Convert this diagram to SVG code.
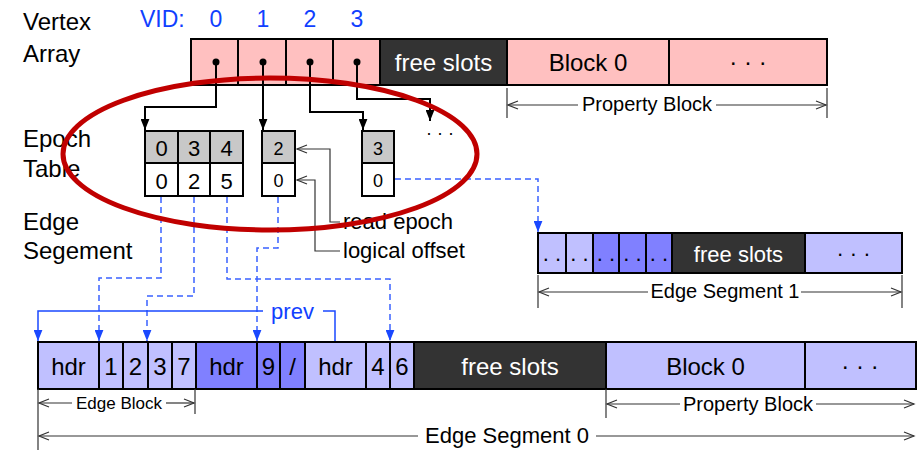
<svg xmlns="http://www.w3.org/2000/svg" width="917" height="451" viewBox="0 0 917 451">
<style>
text { font-family: "Liberation Sans", Arial, Helvetica, sans-serif; }
.lbl { font-size: 24px; fill: #000; }
.c { text-anchor: middle; }
.s24 { font-size: 24px; }
.s22 { font-size: 22px; }
.s20 { font-size: 20px; }
.s18 { font-size: 18px; }
.s17 { font-size: 17px; }
.wt { fill: #fff; }
.bt { fill: #1040ff; }
.cell { stroke: #000; stroke-width: 2; }
.pink { fill: #ffc0c0; }
.dark { fill: #333333; }
.lt { fill: #c0c0ff; }
.md { fill: #8080ff; }
.gray { fill: #c8c8c8; }
.white { fill: #ffffff; }
.bk { stroke: #000; stroke-width: 2; fill: none; }
.dim { stroke: #333; stroke-width: 1.2; fill: none; }
.bd { stroke: #3a62ff; stroke-width: 1.5; stroke-dasharray: 6 4; fill: none; }
.bs { stroke: #1a48ff; stroke-width: 1.5; fill: none; }
</style>
<defs>
<marker id="ab" viewBox="0 0 10 8" refX="10" refY="4" markerWidth="11" markerHeight="9" markerUnits="userSpaceOnUse" orient="auto">
<path d="M0,0 L10,4 L0,8 z" fill="#000"/>
</marker>
<marker id="au" viewBox="0 0 10 8" refX="10" refY="4" markerWidth="11" markerHeight="9" markerUnits="userSpaceOnUse" orient="auto">
<path d="M0,0 L10,4 L0,8 z" fill="#1a48ff"/>
</marker>
<marker id="ch" viewBox="0 0 10 8" refX="10" refY="4" markerWidth="10" markerHeight="8" markerUnits="userSpaceOnUse" orient="auto" overflow="visible">
<path d="M0,0 L10,4 L0,8" fill="none" stroke="#333" stroke-width="1.2"/>
</marker>
</defs>
<rect width="917" height="451" fill="#fff"/>

<!-- left labels -->
<g id="labels">
<text class="lbl" x="23" y="30">Vertex</text>
<text class="lbl" x="23" y="62">Array</text>
<text class="lbl" x="23" y="147">Epoch</text>
<text class="lbl" x="23" y="177">Table</text>
<text class="lbl" x="23" y="230">Edge</text>
<text class="lbl" x="23" y="259">Segement</text>
<text class="bt" x="140" y="27" style="font-size:23px">VID:</text>
<text class="bt c" x="216" y="27" style="font-size:23px">0</text>
<text class="bt c" x="263" y="27" style="font-size:23px">1</text>
<text class="bt c" x="310" y="27" style="font-size:23px">2</text>
<text class="bt c" x="357" y="27" style="font-size:23px">3</text>
</g>

<!-- vertex array -->
<g id="vertex-array">
<rect class="cell pink" x="191" y="39" width="47" height="46"/>
<rect class="cell pink" x="238" y="39" width="48" height="46"/>
<rect class="cell pink" x="286" y="39" width="47" height="46"/>
<rect class="cell pink" x="333" y="39" width="47" height="46"/>
<rect class="cell dark" x="380" y="39" width="127" height="46"/>
<rect class="cell pink" x="507" y="39" width="162" height="46"/>
<rect class="cell pink" x="669" y="39" width="158" height="46"/>
<circle cx="216" cy="62" r="3.5" fill="#000"/>
<circle cx="263" cy="62" r="3.5" fill="#000"/>
<circle cx="310" cy="62" r="3.5" fill="#000"/>
<circle cx="357" cy="62" r="3.5" fill="#000"/>
<text class="s24 c wt" x="443.5" y="71">free slots</text>
<text class="s24 c" x="588" y="71">Block 0</text>
<text class="s24 c" x="748" y="70">· · ·</text>
</g>

<!-- epoch tables -->
<g id="epoch-0">
<rect class="cell gray" x="145" y="131" width="33" height="32"/>
<rect class="cell gray" x="178" y="131" width="32" height="32"/>
<rect class="cell gray" x="210" y="131" width="33" height="32"/>
<rect class="cell white" x="145" y="163" width="33" height="33"/>
<rect class="cell white" x="178" y="163" width="32" height="33"/>
<rect class="cell white" x="210" y="163" width="33" height="33"/>
<text class="s22 c" x="161.5" y="156">0</text>
<text class="s22 c" x="194" y="156">3</text>
<text class="s22 c" x="226.5" y="156">4</text>
<text class="s22 c" x="161.5" y="189">0</text>
<text class="s22 c" x="194" y="189">2</text>
<text class="s22 c" x="226.5" y="189">5</text>
</g>
<g id="epoch-1">
<rect class="cell gray" x="262" y="131" width="33" height="32"/>
<rect class="cell white" x="262" y="163" width="33" height="33"/>
<text class="s18 c" x="278.5" y="155">2</text>
<text class="s18 c" x="278.5" y="187">0</text>
</g>
<g id="epoch-2">
<rect class="cell gray" x="362" y="131" width="32" height="32"/>
<rect class="cell white" x="362" y="163" width="32" height="33"/>
<text class="s18 c" x="378" y="155">3</text>
<text class="s18 c" x="378" y="187">0</text>
</g>
<g id="epoch-more">
<text class="c" x="440" y="139" style="font-size:18px">· · ·</text>
</g>

<!-- callouts -->
<g id="callouts">
<path class="dim" d="M340,222 H330 V149 H297" marker-end="url(#ch)"/>
<path class="dim" d="M340,251 H315 V180 H297" marker-end="url(#ch)"/>
<text class="s22" x="343" y="229">read epoch</text>
<text class="s22" x="343" y="258">logical offset</text>
</g>

<!-- edge segment 1 -->
<g id="edge-segment-1">
<rect class="cell lt" x="538" y="233" width="28" height="40"/>
<rect class="cell lt" x="566" y="233" width="27" height="40"/>
<rect class="cell md" x="593" y="233" width="26" height="40"/>
<rect class="cell md" x="619" y="233" width="27" height="40"/>
<rect class="cell md" x="646" y="233" width="26" height="40"/>
<rect class="cell dark" x="672" y="233" width="133" height="40"/>
<rect class="cell lt" x="805" y="233" width="97" height="40"/>
<text class="s22 c" x="552" y="261">. .</text>
<text class="s22 c" x="579.5" y="261">. .</text>
<text class="s22 c" x="606" y="261">. .</text>
<text class="s22 c" x="632.5" y="261">. .</text>
<text class="s22 c" x="659" y="261">. .</text>
<text class="s22 c wt" x="738.5" y="262">free slots</text>
<text class="s22 c" x="853.5" y="261">· · ·</text>
</g>

<!-- edge segment 0 -->
<g id="edge-segment-0">
<rect class="cell lt" x="38" y="342" width="61" height="47"/>
<rect class="cell lt" x="99" y="342" width="24" height="47"/>
<rect class="cell lt" x="123" y="342" width="25" height="47"/>
<rect class="cell lt" x="148" y="342" width="24" height="47"/>
<rect class="cell lt" x="172" y="342" width="24" height="47"/>
<rect class="cell md" x="196" y="342" width="61" height="47"/>
<rect class="cell md" x="257" y="342" width="23" height="47"/>
<rect class="cell md" x="280" y="342" width="25" height="47"/>
<rect class="cell lt" x="305" y="342" width="61" height="47"/>
<rect class="cell lt" x="366" y="342" width="24" height="47"/>
<rect class="cell lt" x="390" y="342" width="24" height="47"/>
<rect class="cell dark" x="414" y="342" width="192" height="47"/>
<rect class="cell lt" x="606" y="342" width="199" height="47"/>
<rect class="cell lt" x="805" y="342" width="111" height="47"/>
<text class="s24 c" x="68.5" y="375">hdr</text>
<text class="s24 c" x="111" y="375">1</text>
<text class="s24 c" x="135.5" y="375">2</text>
<text class="s24 c" x="160" y="375">3</text>
<text class="s24 c" x="184" y="375">7</text>
<text class="s24 c" x="226.5" y="375">hdr</text>
<text class="s24 c" x="268.5" y="375">9</text>
<text class="s24 c" x="292.5" y="375">/</text>
<text class="s24 c" x="335.5" y="375">hdr</text>
<text class="s24 c" x="378" y="375">4</text>
<text class="s24 c" x="402" y="375">6</text>
<text class="s24 c wt" x="510" y="375">free slots</text>
<text class="s24 c" x="705.5" y="375">Block 0</text>
<text class="s24 c" x="860" y="374">· · ·</text>
</g>

<!-- dimension lines -->
<g id="dimensions">
<path class="dim" d="M507,88 V118 M827,88 V118"/>
<path class="dim" d="M578,105 H508" marker-end="url(#ch)"/>
<path class="dim" d="M716,105 H826" marker-end="url(#ch)"/>
<text class="s20 c" x="647" y="111">Property Block</text>

<path class="dim" d="M538,275 V308 M902,275 V308"/>
<path class="dim" d="M648,292 H539" marker-end="url(#ch)"/>
<path class="dim" d="M801,292 H901" marker-end="url(#ch)"/>
<text class="s20 c" x="725" y="298">Edge Segment 1</text>

<path class="dim" d="M38,389 V450 M195,389 V414"/>
<path class="dim" d="M72,403 H39" marker-end="url(#ch)"/>
<path class="dim" d="M166,403 H194" marker-end="url(#ch)"/>
<text class="s17 c" x="119" y="409">Edge Block</text>

<path class="dim" d="M606,389 V418"/>
<path class="dim" d="M680,404 H607" marker-end="url(#ch)"/>
<path class="dim" d="M816,404 H914" marker-end="url(#ch)"/>
<text class="s20 c" x="748" y="411">Property Block</text>

<path class="dim" d="M418,436 H39" marker-end="url(#ch)"/>
<path class="dim" d="M596,436 H914" marker-end="url(#ch)"/>
<text class="s22 c" x="507" y="443">Edge Segment 0</text>
</g>

<!-- connectors -->
<g id="connectors">
<path class="bk" d="M216,62 V107 H145 V130" marker-end="url(#ab)"/>
<path class="bk" d="M263,62 V130" marker-end="url(#ab)"/>
<path class="bk" d="M310,62 V112 H363 V130" marker-end="url(#ab)"/>
<path class="bk" d="M357,62 V99 H430 V121" marker-end="url(#ab)"/>

<path class="bd" d="M161,197 V278 H99 V341" marker-end="url(#au)"/>
<path class="bd" d="M194,197 V296 H147 V341" marker-end="url(#au)"/>
<path class="bd" d="M227,197 V279 H390 V341" marker-end="url(#au)"/>
<path class="bd" d="M278,197 V248 H257 V341" marker-end="url(#au)"/>
<path class="bd" d="M395,179 H538 V232" marker-end="url(#au)"/>

<path class="bs" d="M335,341 V311 H323"/>
<path class="bs" d="M263,311 H38 V341" marker-end="url(#au)"/>
<text class="s22 bt c" x="292.5" y="319">prev</text>
</g>

<!-- highlight ellipse -->
<g id="highlight">
<ellipse cx="270" cy="154" rx="207" ry="76" fill="none" stroke="#c00000" stroke-width="5"/>
</g>
</svg>
